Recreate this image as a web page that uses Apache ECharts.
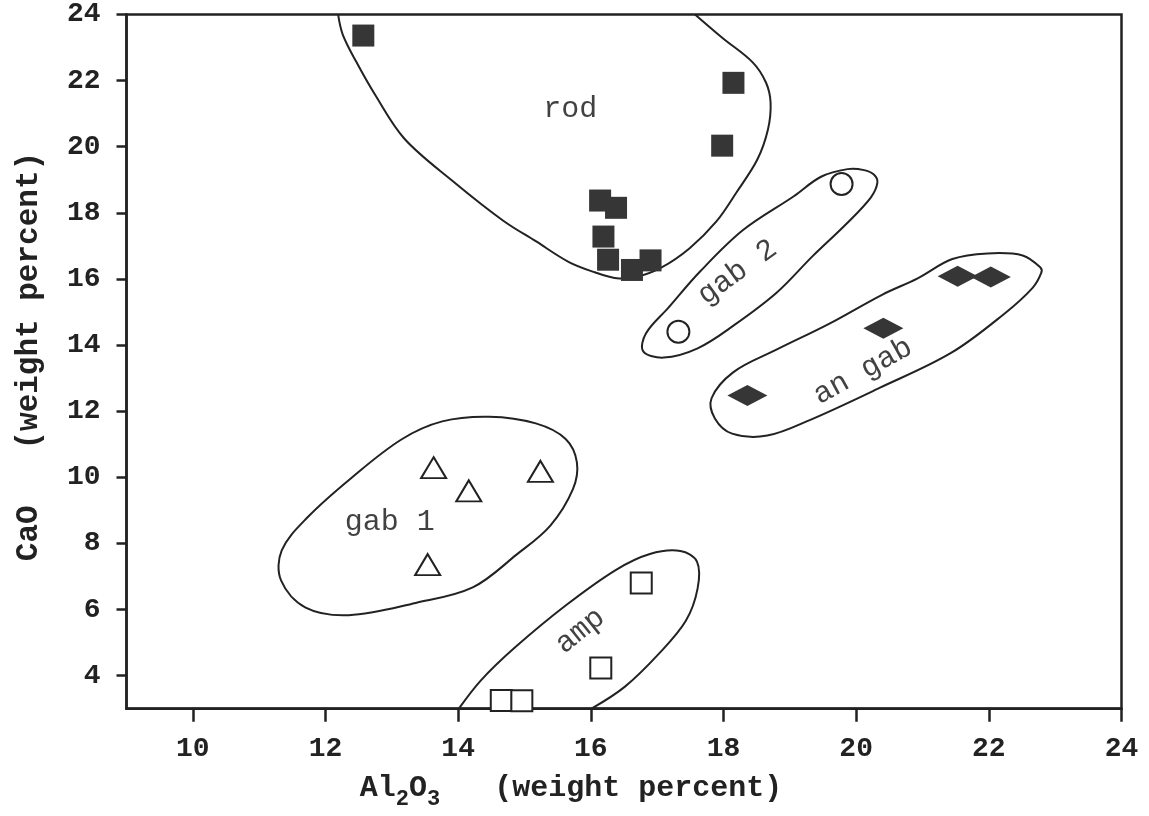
<!DOCTYPE html>
<html>
<head>
<meta charset="utf-8">
<script src="https://cdn.jsdelivr.net/npm/echarts@6/dist/echarts.min.js"></script>
<style>
html,body{margin:0;padding:0;background:#fff;}
#chart{width:1149px;height:816px;}
</style>
</head>
<body>
<div id="chart"></div>
<script>
// ---- axis ticks ----
const xTickValues = [10, 12, 14, 16, 18, 20, 22, 24];
const yTickValues = [4, 6, 8, 10, 12, 14, 16, 18, 20, 22, 24];

// ---- sample groups (Al2O3, CaO) ----
const rodAl2O3 = [12.57, 18.15, 17.98, 16.14, 16.38, 16.19, 16.26, 16.62, 16.90];
const rodCaO   = [23.36, 21.93, 20.03, 18.37, 18.15, 17.28, 16.58, 16.27, 16.56];

const gab2Al2O3 = [17.32, 19.78];
const gab2CaO   = [14.40, 18.87];

const anGabAl2O3 = [18.36, 20.41, 21.53, 22.03];
const anGabCaO   = [12.47, 14.51, 16.08, 16.06];

const gab1Al2O3 = [13.63, 14.16, 15.24, 13.54];
const gab1CaO   = [10.29, 9.59, 10.18, 7.36];

const ampAl2O3 = [16.76, 16.15, 14.65, 14.96];
const ampCaO   = [6.80, 4.23, 3.25, 3.24];

// ---- field outlines (Al2O3, CaO) ----
const rodFieldX = [12.19, 12.26, 12.46, 12.75, 13.19, 13.93, 14.68, 15.17, 15.67, 16.06, 16.36, 16.67, 17.06, 17.49, 17.89, 18.20, 18.51, 18.67, 18.71, 18.64, 18.44, 17.99, 17.57];
const rodFieldY = [24.00, 23.39, 22.58, 21.56, 20.24, 18.94, 17.76, 17.14, 16.51, 16.20, 16.03, 16.05, 16.34, 16.93, 17.73, 18.63, 19.61, 20.52, 21.33, 21.94, 22.55, 23.28, 24.00];

const gab2FieldX = [19.87, 20.12, 20.27, 20.32, 20.22, 19.85, 19.34, 18.80, 18.16, 17.61, 17.10, 16.79, 16.83, 17.17, 17.65, 18.29, 19.06, 19.47];
const gab2FieldY = [19.32, 19.29, 19.15, 18.91, 18.46, 17.66, 16.68, 15.58, 14.60, 13.90, 13.62, 13.81, 14.35, 15.13, 16.23, 17.47, 18.50, 19.09];

const anGabFieldX = [22.78, 22.51, 21.98, 21.45, 20.92, 20.39, 19.59, 18.79, 18.15, 17.82, 17.87, 18.13, 18.66, 19.30, 20.36, 21.43, 22.23, 22.66, 22.79];
const anGabFieldY = [16.34, 16.71, 16.77, 16.60, 16.01, 15.52, 14.64, 13.85, 13.18, 12.39, 11.78, 11.32, 11.26, 11.73, 12.71, 13.76, 14.94, 15.73, 16.18];

const gab1FieldX = [14.47, 15.17, 15.62, 15.79, 15.73, 15.39, 14.88, 14.22, 13.36, 12.35, 11.70, 11.33, 11.34, 11.73, 12.39, 13.15, 13.76];
const gab1FieldY = [11.83, 11.63, 11.16, 10.45, 9.64, 8.54, 7.66, 6.67, 6.20, 5.83, 6.06, 6.88, 7.79, 8.79, 9.98, 11.15, 11.69];

const ampFieldX = [14.01, 14.34, 14.85, 15.62, 16.38, 16.89, 17.35, 17.60, 17.61, 17.43, 17.02, 16.51, 16.01];
const ampFieldY = [3.00, 3.85, 4.84, 6.12, 7.20, 7.68, 7.77, 7.45, 6.64, 5.65, 4.65, 3.66, 3.00];

// ---- field names ----
const fieldNames = ['rod', 'gab 2', 'an gab', 'gab 1', 'amp'];
const fieldNameX = [15.69, 18.21, 20.10, 12.97, 15.84];
const fieldNameY = [21.14, 16.20, 13.20, 8.63, 5.35];
const fieldNameAngle = [0, 36, 29, 0, 39];

// ---- build ----
const INK = '#222';
const MARK = '#363636';
const TEXT = '#222';
const MONO = '"Liberation Mono", "DejaVu Sans Mono", monospace';

function pairs(xs, ys) { return xs.map((x, i) => [x, ys[i]]); }

function outline(name, xs, ys, closed) {
  return {
    name: name,
    type: 'custom',
    coordinateSystem: 'cartesian2d',
    silent: true,
    clip: false,
    z: 1,
    data: [[xs[0], ys[0]]],
    renderItem: function (params, api) {
      const pts = xs.map((x, i) => api.coord([x, ys[i]]));
      return {
        type: closed ? 'polygon' : 'polyline',
        shape: { points: pts, smooth: 0.35 },
        style: { fill: 'none', stroke: INK, lineWidth: 2 }
      };
    }
  };
}

const chart = echarts.init(document.getElementById('chart'), null, { renderer: 'canvas' });

const option = {
  backgroundColor: '#ffffff',
  animation: false,
  grid: {
    left: 126.5, right: 27.5, top: 14.4, bottom: 107.3,
    show: true, borderColor: INK, borderWidth: 2.5, backgroundColor: 'transparent',
    containLabel: false, outerBoundsMode: 'none'
  },
  xAxis: {
    type: 'value', min: 9, max: 24,
    splitLine: { show: false },
    axisLine: { show: true, onZero: false, lineStyle: { color: INK, width: 2.5 } },
    axisTick: { show: true, inside: false, length: 13, customValues: xTickValues, lineStyle: { color: INK, width: 2.5 } },
    axisLabel: { customValues: xTickValues, margin: 26, color: TEXT, fontFamily: MONO, fontWeight: 'bold', fontSize: 28 },
    name: '{t|Al}{s|2}{t|O}{s|3}{t|   (weight percent)}',
    nameLocation: 'middle',
    nameGap: 58,
    nameTextStyle: {
      padding: [0, 106, 0, 0],
      rich: {
        t: { fontFamily: MONO, fontWeight: 'bold', fontSize: 30, color: TEXT },
        s: { fontFamily: MONO, fontWeight: 'bold', fontSize: 22, color: TEXT, verticalAlign: 'top', padding: [22, 0, 0, 0] }
      }
    }
  },
  yAxis: {
    type: 'value', min: 3, max: 24,
    splitLine: { show: false },
    axisLine: { show: true, onZero: false, lineStyle: { color: INK, width: 2.5 } },
    axisTick: { show: true, inside: false, length: 10, customValues: yTickValues, lineStyle: { color: INK, width: 2.5 } },
    axisLabel: { customValues: yTickValues, margin: 26, color: TEXT, fontFamily: MONO, fontWeight: 'bold', fontSize: 28 },
    name: 'CaO   (weight percent)',
    nameLocation: 'middle',
    nameGap: 82,
    nameRotate: 90,
    nameTextStyle: { fontFamily: MONO, fontWeight: 'bold', fontSize: 31, color: TEXT, padding: [0, 0, 0, 10] }
  },
  series: [
    outline('rod field', rodFieldX, rodFieldY, false),
    outline('gab 2 field', gab2FieldX, gab2FieldY, true),
    outline('an gab field', anGabFieldX, anGabFieldY, true),
    outline('gab 1 field', gab1FieldX, gab1FieldY, true),
    outline('amp field', ampFieldX, ampFieldY, false),
    {
      name: 'rod', type: 'scatter', z: 3, symbol: 'rect', symbolSize: 22,
      itemStyle: { color: MARK, opacity: 1 },
      data: pairs(rodAl2O3, rodCaO)
    },
    {
      name: 'gab 2', type: 'scatter', z: 3, symbol: 'circle', symbolSize: 22,
      itemStyle: { color: '#fff', borderColor: INK, borderWidth: 2, opacity: 1 },
      data: pairs(gab2Al2O3, gab2CaO)
    },
    {
      name: 'an gab', type: 'scatter', z: 3, symbol: 'diamond', symbolSize: [40, 21],
      itemStyle: { color: MARK, opacity: 1 },
      data: pairs(anGabAl2O3, anGabCaO)
    },
    {
      name: 'gab 1', type: 'scatter', z: 3, symbol: 'triangle', symbolSize: [25, 21],
      itemStyle: { color: '#fff', borderColor: INK, borderWidth: 2, opacity: 1 },
      data: pairs(gab1Al2O3, gab1CaO)
    },
    {
      name: 'amp', type: 'scatter', z: 3, symbol: 'rect', symbolSize: 21,
      itemStyle: { color: '#fff', borderColor: INK, borderWidth: 2, opacity: 1 },
      data: pairs(ampAl2O3, ampCaO)
    },
    {
      name: 'field names', type: 'scatter', z: 4, symbolSize: 0, silent: true,
      data: fieldNames.map((n, i) => ({
        name: n,
        value: [fieldNameX[i], fieldNameY[i]],
        label: { rotate: fieldNameAngle[i] }
      })),
      label: {
        show: true, position: 'inside', formatter: '{b}',
        fontFamily: MONO, fontSize: 30, color: '#111'
      }
    }
  ]
};

chart.setOption(option);
</script>
</body>
</html>
